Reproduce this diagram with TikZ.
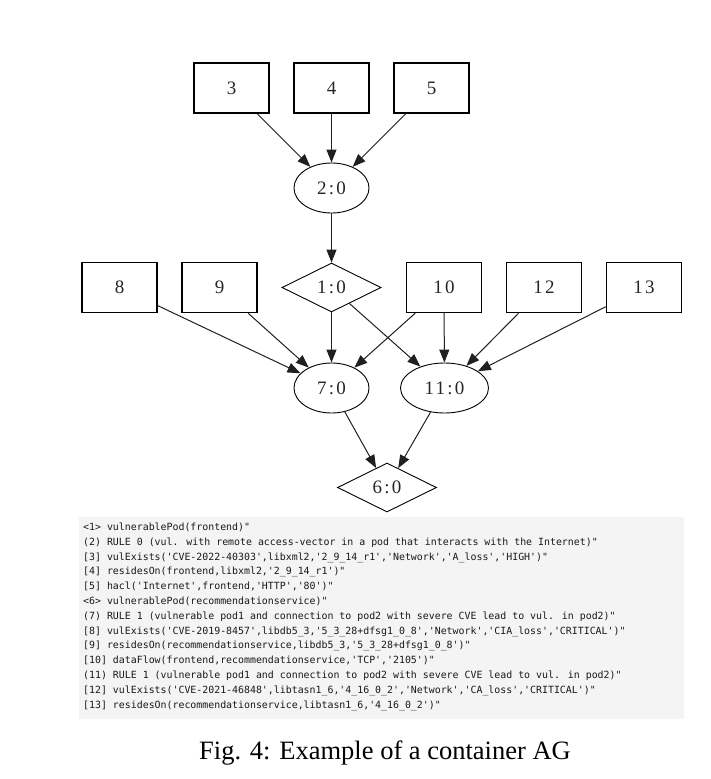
\documentclass[tikz,border=0pt]{standalone}
\usepackage{fontspec}
\setmainfont{Liberation Serif}
\newfontfamily\labelfont[LetterSpace=12]{Liberation Serif}
\newfontfamily\factfont{DejaVu Sans Mono}
\usetikzlibrary{shapes.geometric,arrows.meta}
\definecolor{listbg}{HTML}{F4F4F4}
\definecolor{edgecol}{HTML}{202020}
\tikzset{
  lbl/.style={font=\labelfont\fontsize{19}{22}\selectfont, text=black!85},
  factbox/.style={lbl, rectangle, draw, line width=1.4pt, minimum width=75pt, minimum height=50pt, inner sep=0pt},
  rulenode/.style={lbl, ellipse, draw, line width=0.9pt, minimum width=75pt, minimum height=50pt, inner sep=0pt},
  goalnode/.style={lbl, diamond, draw, line width=0.9pt, minimum width=99pt, minimum height=49pt, inner sep=0pt},
  edge/.style={draw=edgecol, line width=1pt, -{Triangle[length=13pt,width=10pt]}},
  listline/.style={anchor=base west, inner sep=0pt, font=\factfont\fontsize{9.9}{12}\selectfont, text=black!90},
}
\begin{document}
\begin{tikzpicture}[x=1pt,y=-1pt]
\useasboundingbox (0,0) rectangle (711,779);

% top row of facts and the first rule
\node[factbox] (b3) at (231.5,88) {3};
\node[factbox] (b4) at (331.5,88) {4};
\node[factbox] (b5) at (431.5,88) {5};
\node[rulenode] (r2) at (331.5,188) {2:0};

% second row
\node[goalnode] (g1) at (331.5,287.5) {1:0};
\node[factbox] (b8) at (119.5,287.5) {8};
\node[factbox] (b9) at (219.5,287.5) {9};
\node[factbox] (b10) at (444,287.5) {10};
\node[factbox] (b12) at (544,287.5) {12};
\node[factbox] (b13) at (644,287.5) {13};

% lower rules and the final goal
\node[rulenode] (r7) at (331.5,388) {7:0};
\node[rulenode, minimum width=88pt] (r11) at (444.5,388) {11:0};
\node[goalnode] (g6) at (387,487.5) {6:0};

% connectors
\draw[edge] (b3) -- (r2);
\draw[edge] (b4) -- (r2);
\draw[edge] (b5) -- (r2);
\draw[edge] (r2) -- (g1);
\draw[edge] (b8) -- (r7);
\draw[edge] (b9) -- (r7);
\draw[edge] (g1) -- (r7);
\draw[edge] (b10) -- (r7);
\draw[edge] (g1) -- (r11);
\draw[edge] (b10) -- (r11);
\draw[edge] (b12) -- (r11);
\draw[edge] (b13) -- (r11);
\draw[edge] (r7) -- (g6);
\draw[edge] (r11) -- (g6);

% legend of node meanings
\fill[listbg] (79,517) rectangle (684,719);
\node[listline] (l1) at (83,530.5) {<1> vulnerablePod(frontend)"};
\node[listline] (l2) at (83,545.3) {(2) RULE 0 (vul. with remote access-vector in a pod that interacts with the Internet)"};
\node[listline] (l3) at (83,560.1) {[3] vulExists('CVE-2022-40303',libxml2,'2\_9\_14\_r1','Network','A\_loss','HIGH')"};
\node[listline] (l4) at (83,574.9) {[4] residesOn(frontend,libxml2,'2\_9\_14\_r1')"};
\node[listline] (l5) at (83,589.7) {[5] hacl('Internet',frontend,'HTTP','80')"};
\node[listline] (l6) at (83,604.5) {<6> vulnerablePod(recommendationservice)"};
\node[listline] (l7) at (83,619.3) {(7) RULE 1 (vulnerable pod1 and connection to pod2 with severe CVE lead to vul. in pod2)"};
\node[listline] (l8) at (83,634.1) {[8] vulExists('CVE-2019-8457',libdb5\_3,'5\_3\_28+dfsg1\_0\_8','Network','CIA\_loss','CRITICAL')"};
\node[listline] (l9) at (83,648.9) {[9] residesOn(recommendationservice,libdb5\_3,'5\_3\_28+dfsg1\_0\_8')"};
\node[listline] (l10) at (83,663.7) {[10] dataFlow(frontend,recommendationservice,'TCP','2105')"};
\node[listline] (l11) at (83,678.5) {(11) RULE 1 (vulnerable pod1 and connection to pod2 with severe CVE lead to vul. in pod2)"};
\node[listline] (l12) at (83,693.3) {[12] vulExists('CVE-2021-46848',libtasn1\_6,'4\_16\_0\_2','Network','CA\_loss','CRITICAL')"};
\node[listline] (l13) at (83,708.1) {[13] residesOn(recommendationservice,libtasn1\_6,'4\_16\_0\_2')"};

% caption
\node[anchor=base, inner sep=0pt, font=\fontsize{26.5}{30}\selectfont] (cap) at (385,759) {Fig. 4: Example of a container AG};
\end{tikzpicture}
\end{document}
